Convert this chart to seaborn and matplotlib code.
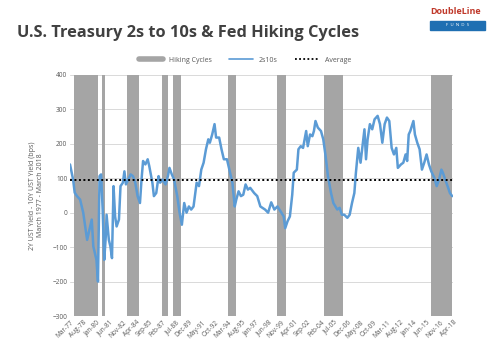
import pandas as pd
import matplotlib.pyplot as plt
import seaborn as sns
from matplotlib.lines import Line2D
from matplotlib.patches import Rectangle

# 2s10s spread (bps)
dates = ["1977-03", "1977-07", "1977-09", "1977-12", "1978-04", "1978-08", "1979-01", "1979-04",
         "1979-07", "1979-09", "1980-01", "1980-03", "1980-05", "1980-07", "1980-09", "1980-11",
         "1981-01", "1981-02", "1981-05", "1981-07", "1981-09", "1981-11", "1982-01", "1982-03",
         "1982-06", "1982-08", "1982-11", "1983-01", "1983-03", "1983-06", "1983-09", "1983-12",
         "1984-03", "1984-06", "1984-09", "1984-11", "1985-01", "1985-04", "1985-07", "1985-09",
         "1986-01", "1986-03", "1986-06", "1986-09", "1986-11", "1987-02", "1987-06", "1987-09",
         "1987-11", "1988-02", "1988-05", "1988-09", "1988-12", "1989-03", "1989-06", "1989-09",
         "1989-12", "1990-03", "1990-06", "1990-10", "1991-01", "1991-04", "1991-07", "1991-10",
         "1992-01", "1992-03", "1992-06", "1992-09", "1992-11", "1993-03", "1993-06", "1993-09",
         "1994-01", "1994-05", "1994-08", "1994-11", "1995-01", "1995-04", "1995-07", "1995-10",
         "1996-01", "1996-04", "1996-07", "1996-12", "1997-04", "1997-08", "1998-02", "1998-06",
         "1998-10", "1999-02", "1999-06", "1999-10", "2000-02", "2000-04", "2000-07", "2000-10",
         "2001-01", "2001-03", "2001-07", "2001-09", "2001-12", "2002-03", "2002-07", "2002-09",
         "2002-12", "2003-03", "2003-05", "2003-07", "2003-10", "2004-02", "2004-05", "2004-08",
         "2004-11", "2005-03", "2005-06", "2005-11", "2006-02", "2006-05", "2006-08", "2006-12",
         "2007-03", "2007-06", "2007-09", "2007-11", "2008-02", "2008-05", "2008-08", "2008-10",
         "2008-12", "2009-02", "2009-05", "2009-08", "2009-11", "2010-03", "2010-06", "2010-09",
         "2010-12", "2011-03", "2011-06", "2011-09", "2011-12", "2012-03", "2012-05", "2012-09",
         "2012-12", "2013-03", "2013-05", "2013-07", "2013-09", "2014-01", "2014-03", "2014-06",
         "2014-09", "2014-12", "2015-03", "2015-06", "2015-09", "2015-12", "2016-04", "2016-07",
         "2016-10", "2017-01", "2017-03", "2017-06", "2017-09", "2017-12", "2018-03"]
spread = [140, 96, 58, 48, 38, 0, -79, -50,
          -20, -98, -137, -200, 106, 111, 9, -137,
          -69, -6, -79, -98, -132, 77, -11, -40,
          -20, 77, 87, 120, 82, 96, 111, 106,
          87, 48, 28, 96, 150, 140, 155, 135,
          87, 48, 57, 106, 87, 96, 82, 106,
          130, 111, 96, 48, 0, -35, 28, 0,
          18, 9, 18, 87, 77, 125, 145, 184,
          213, 203, 227, 257, 218, 218, 184, 155,
          155, 116, 87, 18, 38, 62, 48, 52,
          82, 67, 72, 57, 48, 18, 9, 0,
          30, 9, 18, 4, -11, -45, -25, -11,
          52, 116, 125, 184, 193, 188, 237, 193,
          227, 222, 237, 266, 247, 237, 213, 164,
          106, 57, 28, 9, 14, -6, -6, -15,
          -6, 28, 57, 116, 188, 145, 203, 242,
          155, 213, 257, 242, 271, 281, 257, 203,
          257, 276, 266, 188, 169, 188, 130, 140,
          145, 169, 150, 227, 237, 266, 227, 203,
          184, 125, 145, 169, 140, 120, 101, 77,
          96, 125, 116, 96, 77, 57, 48]
average = 96

# Fed hiking cycles (start, end)
hike_start = ["1977-08", "1980-08", "1983-04", "1987-01", "1988-03", "1994-02", "1999-06", "2004-06", "2015-12"]
hike_end = ["1980-03", "1980-12", "1984-08", "1987-09", "1989-02", "1995-01", "2000-05", "2006-07", "2018-03"]

tick_labels = ["Mar-77", "Aug-78", "Jan-80", "Jun-81", "Nov-82", "Apr-84", "Sep-85", "Feb-87",
               "Jul-88", "Dec-89", "May-91", "Oct-92", "Mar-94", "Aug-95", "Jan-97", "Jun-98",
               "Nov-99", "Apr-01", "Sep-02", "Feb-04", "Jul-05", "Dec-06", "May-08", "Oct-09",
               "Mar-11", "Aug-12", "Jan-14", "Jun-15", "Nov-16", "Apr-18"]

df = pd.DataFrame({"date": pd.to_datetime(dates), "2s10s": spread})
ticks = pd.to_datetime(tick_labels, format="%b-%y")

sns.set_style("white")
plt.rcParams["font.family"] = ["Open Sans", "DejaVu Sans"]

fig = plt.figure(figsize=(5, 3.51), dpi=100)
ax = fig.add_axes([0.14, 0.0997, 0.766, 0.687])

grey_txt = "#595959"
for s, e in zip(hike_start, hike_end):
    ax.axvspan(pd.Timestamp(s), pd.Timestamp(e), color="#a5a5a5", lw=0, zorder=1)

sns.lineplot(data=df, x="date", y="2s10s", ax=ax, color="#5b9bd5", lw=1.8, zorder=3)
ax.axhline(average, color="black", lw=1.4, ls=(0, (1, 1.3)), zorder=4)

ax.set_xlim(pd.Timestamp("1977-03-01"), pd.Timestamp("2018-04-01"))
ax.set_ylim(-300, 400)
ax.set_yticks(range(-300, 401, 100))
ax.set_xticks(ticks)
ax.set_xticklabels(tick_labels, rotation=45, ha="right", rotation_mode="anchor")
ax.tick_params(axis="both", labelsize=4.7, colors=grey_txt, length=0, pad=2)
ax.grid(axis="y", color="#d9d9d9", lw=0.7)
ax.set_axisbelow(True)
for sp in ax.spines.values():
    sp.set_visible(False)
ax.set_xlabel("")
ax.set_ylabel("2Y UST Yield - 10Y UST Yield (bps)\nMarch 1977 - March 2018",
              fontsize=5, color=grey_txt, labelpad=6)

handles = [Line2D([], [], color="#a5a5a5", lw=4),
           Line2D([], [], color="#5b9bd5", lw=1.2),
           Line2D([], [], color="black", lw=1.3, ls=(0, (1, 1.3)))]
fig.legend(handles, ["Hiking Cycles", "2s10s", "Average"], loc="center",
           bbox_to_anchor=(0.49, 0.828), ncol=3, frameon=False, fontsize=5,
           labelcolor=grey_txt, handlelength=3.5, columnspacing=2.5)

fig.text(0.034, 0.905, "U.S. Treasury 2s to 10s & Fed Hiking Cycles", fontsize=11.8,
         fontweight="bold", color="#404040", va="center")

# logo
fig.text(0.962, 0.966, "DoubleLine", fontsize=6.5, fontweight="bold", color="#c0392b",
         ha="right", va="center")
fig.patches.append(Rectangle((0.86, 0.915), 0.11, 0.025, transform=fig.transFigure,
                             color="#1f6fb2", zorder=1))
fig.text(0.915, 0.9275, "F  U  N  D  S", fontsize=3.2, color="white", ha="center", va="center")

fig.savefig("out.png", dpi=100)
